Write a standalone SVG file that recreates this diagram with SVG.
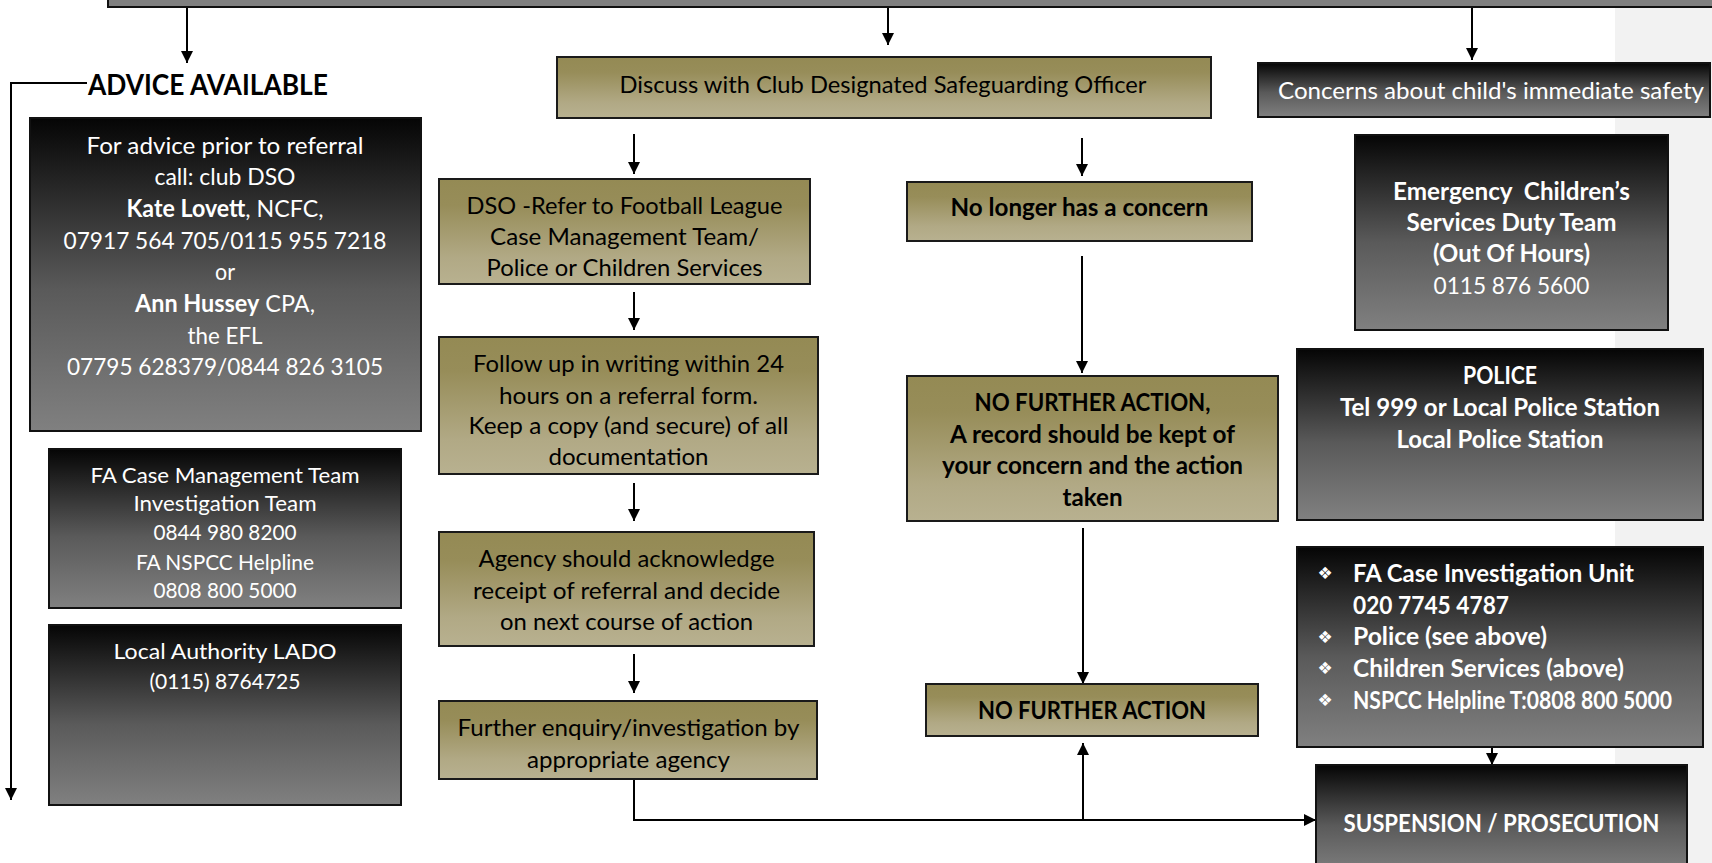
<svg xmlns="http://www.w3.org/2000/svg" width="1712" height="863" viewBox="0 0 1712 863">
<defs>
<linearGradient id="dark" x1="0" y1="0" x2="0" y2="1">
<stop offset="0" stop-color="#050505"/>
<stop offset="0.55" stop-color="#5a5a5a"/>
<stop offset="1" stop-color="#808080"/>
</linearGradient>
<linearGradient id="olive" x1="0" y1="0" x2="0" y2="1">
<stop offset="0" stop-color="#948a54"/>
<stop offset="0.25" stop-color="#978d59"/>
<stop offset="0.75" stop-color="#b1a985"/>
<stop offset="1" stop-color="#b8b190"/>
</linearGradient>
<marker id="ah" viewBox="0 0 12 12" refX="12" refY="6" markerWidth="12" markerHeight="12" markerUnits="userSpaceOnUse" orient="auto">
<path d="M0,0 L12,6 L0,12 Z" fill="#000"/>
</marker>
<style>
.dk{fill:url(#dark);stroke:#111;stroke-width:2}
.ol{fill:url(#olive);stroke:#1a1a1a;stroke-width:2}
.w{fill:#fff;font-family:Lato,"Open Sans",sans-serif;font-size:24px;text-anchor:middle}
.b{fill:#000;font-family:Lato,"Open Sans",sans-serif;font-size:24px;text-anchor:middle}
.s{font-size:22px}
.l{text-anchor:start}
.bold{font-weight:bold}
.ln{fill:none;stroke:#000;stroke-width:2}
.bul{font-family:"DejaVu Sans",sans-serif;font-size:17px;fill:#fff;text-anchor:middle}
</style>
</defs>
<rect x="0" y="0" width="1712" height="863" fill="#fff"/>
<rect x="1615" y="7" width="97" height="856" fill="#f2f2f2"/>
<g id="top-bar"><rect x="108" y="-4" width="1610" height="11" fill="#808080" stroke="#111" stroke-width="2"/></g>

<g id="connectors">
<line class="ln" x1="187" y1="8" x2="187" y2="63" marker-end="url(#ah)"/>
<line class="ln" x1="888" y1="8" x2="888" y2="45" marker-end="url(#ah)"/>
<line class="ln" x1="1472" y1="8" x2="1472" y2="60" marker-end="url(#ah)"/>
<polyline class="ln" points="87,83 11,83 11,800" marker-end="url(#ah)"/>
<line class="ln" x1="634" y1="134" x2="634" y2="174" marker-end="url(#ah)"/>
<line class="ln" x1="634" y1="292" x2="634" y2="330" marker-end="url(#ah)"/>
<line class="ln" x1="634" y1="483" x2="634" y2="521" marker-end="url(#ah)"/>
<line class="ln" x1="634" y1="654" x2="634" y2="693" marker-end="url(#ah)"/>
<polyline class="ln" points="634,779 634,820 1316,820" marker-end="url(#ah)"/>
<line class="ln" x1="1083" y1="820" x2="1083" y2="743" marker-end="url(#ah)"/>
<line class="ln" x1="1082" y1="138" x2="1082" y2="176" marker-end="url(#ah)"/>
<line class="ln" x1="1082" y1="256" x2="1082" y2="373" marker-end="url(#ah)"/>
<line class="ln" x1="1083" y1="528" x2="1083" y2="684" marker-end="url(#ah)"/>
<line class="ln" x1="1492" y1="747" x2="1492" y2="765" marker-end="url(#ah)"/>
</g>

<g id="advice-label"><text x="88" y="95" font-family="Lato,'Open Sans',sans-serif" font-size="28" font-weight="bold" fill="#000" textLength="240" lengthAdjust="spacingAndGlyphs">ADVICE AVAILABLE</text></g>

<g id="advice-box">
<rect class="dk" x="30" y="118" width="391" height="313"/>
<text class="w" x="225" y="153.5" textLength="277" lengthAdjust="spacingAndGlyphs">For advice prior to referral</text>
<text class="w" x="225" y="185.2" textLength="141" lengthAdjust="spacingAndGlyphs">call: club DSO</text>
<text class="w" x="225" y="216.8" textLength="197" lengthAdjust="spacingAndGlyphs"><tspan class="bold">Kate Lovett</tspan>, NCFC,</text>
<text class="w" x="225" y="248.5" textLength="323" lengthAdjust="spacingAndGlyphs">07917 564 705/0115 955 7218</text>
<text class="w" x="225" y="280.2" textLength="20" lengthAdjust="spacingAndGlyphs">or</text>
<text class="w" x="225" y="311.8" textLength="180" lengthAdjust="spacingAndGlyphs"><tspan class="bold">Ann Hussey</tspan> CPA,</text>
<text class="w" x="225" y="343.5" textLength="75" lengthAdjust="spacingAndGlyphs">the EFL</text>
<text class="w" x="225" y="375.2" textLength="316" lengthAdjust="spacingAndGlyphs">07795 628379/0844 826 3105</text>
</g>

<g id="fa-case-box">
<rect class="dk" x="49" y="449" width="352" height="159"/>
<text class="w s" x="225" y="482.5" textLength="269" lengthAdjust="spacingAndGlyphs">FA Case Management Team</text>
<text class="w s" x="225" y="511.2" textLength="183" lengthAdjust="spacingAndGlyphs">Investigation Team</text>
<text class="w s" x="225" y="540.2" textLength="143" lengthAdjust="spacingAndGlyphs">0844 980 8200</text>
<text class="w s" x="225" y="569.5" textLength="178" lengthAdjust="spacingAndGlyphs">FA NSPCC Helpline</text>
<text class="w s" x="225" y="598.3" textLength="143" lengthAdjust="spacingAndGlyphs">0808 800 5000</text>
</g>

<g id="lado-box">
<rect class="dk" x="49" y="625" width="352" height="180"/>
<text class="w s" x="225" y="659" textLength="223" lengthAdjust="spacingAndGlyphs">Local Authority LADO</text>
<text class="w s" x="225" y="689" textLength="151" lengthAdjust="spacingAndGlyphs">(0115) 8764725</text>
</g>

<g id="discuss-box">
<rect class="ol" x="557" y="57" width="654" height="61"/>
<text class="b" x="883" y="93" textLength="527" lengthAdjust="spacingAndGlyphs">Discuss with Club Designated Safeguarding Officer</text>
</g>

<g id="dso-box">
<rect class="ol" x="439" y="179" width="371" height="105"/>
<text class="b" x="624.5" y="213.5" textLength="316" lengthAdjust="spacingAndGlyphs">DSO -Refer to Football League</text>
<text class="b" x="624.5" y="245.2" textLength="269" lengthAdjust="spacingAndGlyphs">Case Management Team/</text>
<text class="b" x="624.5" y="275.8" textLength="276" lengthAdjust="spacingAndGlyphs">Police or Children Services</text>
</g>

<g id="follow-box">
<rect class="ol" x="439" y="337" width="379" height="137"/>
<text class="b" x="628.5" y="371.5" textLength="311" lengthAdjust="spacingAndGlyphs">Follow up in writing within 24</text>
<text class="b" x="628.5" y="403.5" textLength="259" lengthAdjust="spacingAndGlyphs">hours on a referral form.</text>
<text class="b" x="628.5" y="434.2" textLength="320" lengthAdjust="spacingAndGlyphs">Keep a copy (and secure) of all</text>
<text class="b" x="628.5" y="465.2" textLength="160" lengthAdjust="spacingAndGlyphs">documentation</text>
</g>

<g id="agency-box">
<rect class="ol" x="439" y="532" width="375" height="114"/>
<text class="b" x="626.5" y="566.5" textLength="296" lengthAdjust="spacingAndGlyphs">Agency should acknowledge</text>
<text class="b" x="626.5" y="598.5" textLength="307" lengthAdjust="spacingAndGlyphs">receipt of referral and decide</text>
<text class="b" x="626.5" y="629.5" textLength="253" lengthAdjust="spacingAndGlyphs">on next course of action</text>
</g>

<g id="further-box">
<rect class="ol" x="439" y="701" width="378" height="78"/>
<text class="b" x="628.5" y="736.2" textLength="342" lengthAdjust="spacingAndGlyphs">Further enquiry/investigation by</text>
<text class="b" x="628.5" y="767.8" textLength="203" lengthAdjust="spacingAndGlyphs">appropriate agency</text>
</g>

<g id="no-longer-box">
<rect class="ol" x="907" y="182" width="345" height="59"/>
<text class="b bold" x="1079.5" y="216.2" textLength="258" lengthAdjust="spacingAndGlyphs">No longer has a concern</text>
</g>

<g id="nfa-record-box">
<rect class="ol" x="907" y="376" width="371" height="145"/>
<text class="b bold" x="1092.5" y="410.5" textLength="236" lengthAdjust="spacingAndGlyphs">NO FURTHER ACTION,</text>
<text class="b bold" x="1092.5" y="442.5" textLength="285" lengthAdjust="spacingAndGlyphs">A record should be kept of</text>
<text class="b bold" x="1092.5" y="473.5" textLength="301" lengthAdjust="spacingAndGlyphs">your concern and the action</text>
<text class="b bold" x="1092.5" y="505.5" textLength="60" lengthAdjust="spacingAndGlyphs">taken</text>
</g>

<g id="nfa-box">
<rect class="ol" x="926" y="684" width="332" height="52"/>
<text class="b bold" x="1092" y="718.5" textLength="228" lengthAdjust="spacingAndGlyphs">NO FURTHER ACTION</text>
</g>

<g id="concerns-box">
<rect class="dk" x="1258" y="63" width="452" height="54"/>
<text class="w" x="1491" y="99" textLength="426" lengthAdjust="spacingAndGlyphs">Concerns about child's immediate safety</text>
</g>

<g id="emergency-box">
<rect class="dk" x="1355" y="135" width="313" height="195"/>
<text class="w bold" x="1511.5" y="200.2" textLength="237" lengthAdjust="spacingAndGlyphs" xml:space="preserve">Emergency  Children’s</text>
<text class="w bold" x="1511.5" y="230.8" textLength="210" lengthAdjust="spacingAndGlyphs">Services Duty Team</text>
<text class="w bold" x="1511.5" y="261.8" textLength="157" lengthAdjust="spacingAndGlyphs">(Out Of Hours)</text>
<text class="w" x="1511.5" y="293.5" textLength="156" lengthAdjust="spacingAndGlyphs">0115 876 5600</text>
</g>

<g id="police-box">
<rect class="dk" x="1297" y="349" width="406" height="171"/>
<text class="w bold" x="1500" y="383.5" textLength="74" lengthAdjust="spacingAndGlyphs">POLICE</text>
<text class="w bold" x="1500" y="415.8" textLength="320" lengthAdjust="spacingAndGlyphs">Tel 999 or Local Police Station</text>
<text class="w bold" x="1500" y="447.8" textLength="207" lengthAdjust="spacingAndGlyphs">Local Police Station</text>
</g>

<g id="fa-investigation-box">
<rect class="dk" x="1297" y="547" width="406" height="200"/>
<text class="bul" x="1325" y="579">❖</text>
<text class="w bold l" x="1353" y="581.8" textLength="281" lengthAdjust="spacingAndGlyphs">FA Case Investigation Unit</text>
<text class="w bold l" x="1353" y="613.5" textLength="156" lengthAdjust="spacingAndGlyphs">020 7745 4787</text>
<text class="bul" x="1325" y="642.5">❖</text>
<text class="w bold l" x="1353" y="645.2" textLength="194" lengthAdjust="spacingAndGlyphs">Police (see above)</text>
<text class="bul" x="1325" y="674">❖</text>
<text class="w bold l" x="1353" y="676.8" textLength="271" lengthAdjust="spacingAndGlyphs">Children Services (above)</text>
<text class="bul" x="1325" y="705.7">❖</text>
<text class="w bold l" x="1353" y="708.5" font-size="22" textLength="319" lengthAdjust="spacingAndGlyphs">NSPCC Helpline T:0808 800 5000</text>
</g>

<g id="suspension-box">
<rect class="dk" x="1316" y="765" width="371" height="110"/>
<text class="w bold" x="1501.5" y="831.5" textLength="316" lengthAdjust="spacingAndGlyphs">SUSPENSION / PROSECUTION</text>
</g>
</svg>
